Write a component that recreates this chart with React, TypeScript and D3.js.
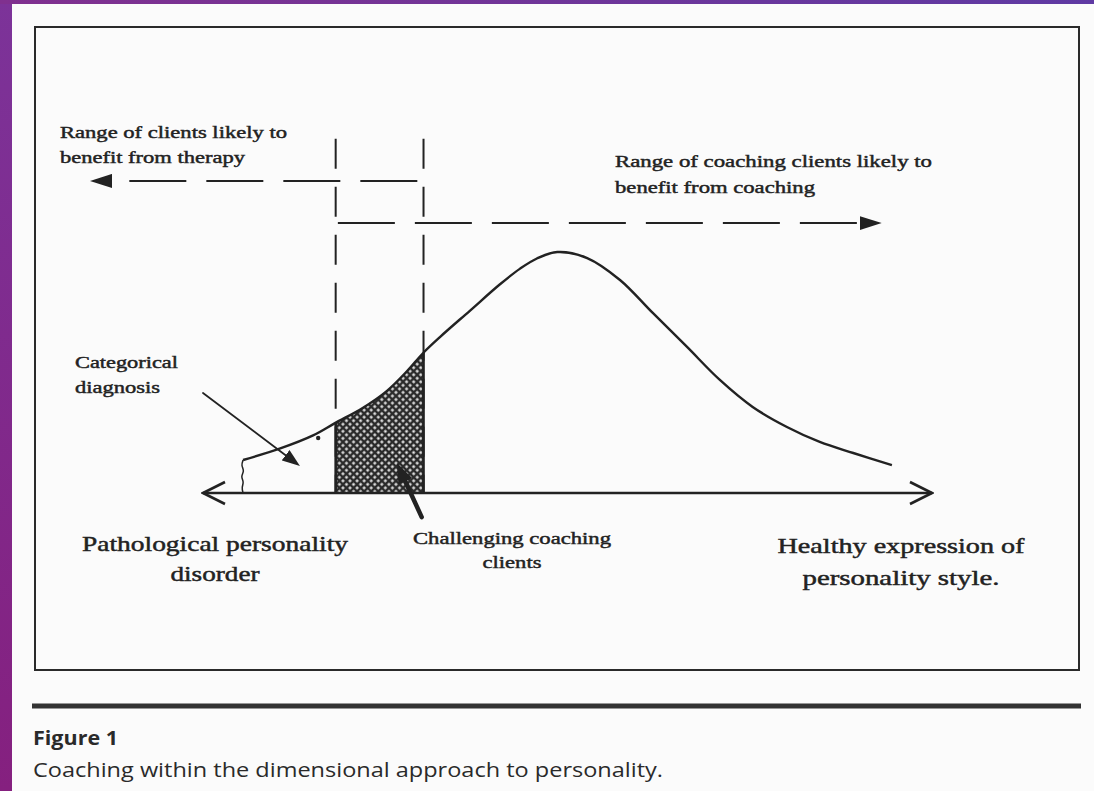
import { useEffect, useRef } from "react";
import * as d3 from "d3";

// position on the personality dimension (0 = pathological end, 100 = healthy end)
const curveX = [5.5, 10.6, 15.1, 18.1, 21.9, 25.2, 28.0, 30.2, 32.5, 36.6, 40.7, 43.5, 45.8, 48.6, 52.7, 57.2, 61.7, 66.4, 70.9, 75.4, 80.1, 84.6, 89.2, 94.5];
// relative frequency of people at that position (peak = 100)
const curveY = [13.7, 18.5, 23.9, 29.0, 35.3, 42.3, 50.6, 58.1, 64.7, 75.6, 86.5, 93.1, 97.3, 100, 97.5, 88.4, 74.7, 60.6, 46.9, 35.7, 27.4, 21.2, 16.6, 11.6];

// cut points on the dimension
const therapyLimit = 18.2;
const coachingLimit = 30.25;

// annotation anchors, in dimension / frequency units
const guideTop = 147;
const therapyRow = [29.4, -15.5, 129.5]; // from, to, level
const coachingRow = [18.5, 93.1, 112]; // from, to, level
const categoricalArrow = [[0, 41.5], [13.3, 11.2]];
const challengeArrow = [[30.0, -10.0], [26.6, 12.4]];
const stray = [15.8, 22.8];

// labels
const therapyLabel = ["Range of clients likely to", "benefit from therapy"];
const coachingLabel = ["Range of coaching clients likely to", "benefit from coaching"];
const categoricalLabel = ["Categorical", "diagnosis"];
const challengeLabel = ["Challenging coaching", "clients"];
const leftPoleLabel = ["Pathological personality", "disorder"];
const rightPoleLabel = ["Healthy expression of", "personality style."];
const figureTitle = "Figure 1";
const figureCaption = "Coaching within the dimensional approach to personality.";

export default function App() {
  const svgRef = useRef<SVGSVGElement | null>(null);

  useEffect(() => {
    if (!svgRef.current) return;
    const svg = d3.select(svgRef.current);
    svg.selectAll("*").remove();

    const W = 1094;
    const H = 791;
    const ink = "#222";

    const x = d3.scaleLinear().domain([0, 100]).range([203, 932]);
    const y = d3.scaleLinear().domain([0, 100]).range([493, 252]);

    const defs = svg.append("defs");

    const side = defs.append("linearGradient").attr("id", "side").attr("x1", 0).attr("y1", 0).attr("x2", 0).attr("y2", 1);
    side.append("stop").attr("offset", "0%").attr("stop-color", "#7c3399");
    side.append("stop").attr("offset", "100%").attr("stop-color", "#85207f");
    const topBand = defs.append("linearGradient").attr("id", "topBand").attr("x1", 0).attr("y1", 0).attr("x2", 1).attr("y2", 0);
    topBand.append("stop").attr("offset", "0%").attr("stop-color", "#80308f");
    topBand.append("stop").attr("offset", "100%").attr("stop-color", "#5f3aa3");

    const hatch = defs
      .append("pattern")
      .attr("id", "hatch")
      .attr("patternUnits", "userSpaceOnUse")
      .attr("width", 5)
      .attr("height", 5)
      .attr("patternTransform", "rotate(45)");
    hatch.append("rect").attr("width", 5).attr("height", 5).attr("fill", "#2a2a2a");
    hatch.append("rect").attr("x", 1.3).attr("y", 1.3).attr("width", 2.4).attr("height", 2.4).attr("fill", "#f4f4f4");

    // arrow heads
    const head = (id: string, w: number, h: number) => {
      defs
        .append("marker")
        .attr("id", id)
        .attr("viewBox", `0 0 ${w} ${h}`)
        .attr("refX", 0)
        .attr("refY", h / 2)
        .attr("markerWidth", w)
        .attr("markerHeight", h)
        .attr("markerUnits", "userSpaceOnUse")
        .attr("orient", "auto")
        .append("path")
        .attr("d", `M0,0L${w},${h / 2}L0,${h}Z`)
        .attr("fill", ink);
    };
    head("dashHead", 22, 14);
    head("thinHead", 18, 13);
    head("thickHead", 20, 15);

    defs
      .append("marker")
      .attr("id", "chevron")
      .attr("viewBox", "-2 -2 26 26")
      .attr("refX", 22)
      .attr("refY", 11)
      .attr("markerWidth", 26)
      .attr("markerHeight", 26)
      .attr("markerUnits", "userSpaceOnUse")
      .attr("orient", "auto-start-reverse")
      .append("path")
      .attr("d", "M0,0L22,11L0,22")
      .attr("fill", "none")
      .attr("stroke", ink)
      .attr("stroke-width", 2.6);

    const shorten = (p0: number[], p1: number[], d: number) => {
      const dx = p1[0] - p0[0];
      const dy = p1[1] - p0[1];
      const L = Math.hypot(dx, dy);
      return [p1[0] - (dx / L) * d, p1[1] - (dy / L) * d];
    };

    // page
    svg.append("rect").attr("width", W).attr("height", H).attr("fill", "#fbfbfb");
    svg.append("rect").attr("width", 12).attr("height", H).attr("fill", "url(#side)");
    svg.append("rect").attr("width", W).attr("height", 4).attr("fill", "url(#topBand)");

    // frame
    svg
      .append("rect")
      .attr("x", 35)
      .attr("y", 27)
      .attr("width", 1044)
      .attr("height", 643)
      .attr("fill", "none")
      .attr("stroke", "#2a2a2a")
      .attr("stroke-width", 2);

    const points = curveX.map((v, i) => [v, curveY[i]] as [number, number]);
    const smooth = d3.curveCatmullRom.alpha(0.5);
    const area = d3
      .area<[number, number]>()
      .x((d) => x(d[0]))
      .y0(y(0))
      .y1((d) => y(d[1]))
      .curve(smooth);
    const line = d3
      .line<[number, number]>()
      .x((d) => x(d[0]))
      .y((d) => y(d[1]))
      .curve(smooth);

    defs.append("clipPath").attr("id", "under").append("path").attr("d", area(points)!);

    // shaded band of challenging clients
    const band = svg.append("g").attr("clip-path", "url(#under)");
    band
      .append("rect")
      .attr("x", x(therapyLimit))
      .attr("y", y(110))
      .attr("width", x(coachingLimit) - x(therapyLimit))
      .attr("height", y(0) - y(110))
      .attr("fill", "url(#hatch)");
    [therapyLimit, coachingLimit].forEach((v) =>
      band
        .append("line")
        .attr("x1", x(v))
        .attr("x2", x(v))
        .attr("y1", y(110))
        .attr("y2", y(0))
        .attr("stroke", ink)
        .attr("stroke-width", 2.6)
    );

    // dashed guides
    [therapyLimit, coachingLimit].forEach((v) =>
      svg
        .append("line")
        .attr("x1", x(v))
        .attr("x2", x(v))
        .attr("y1", y(guideTop))
        .attr("y2", y(0))
        .attr("stroke", ink)
        .attr("stroke-width", 2)
        .attr("stroke-dasharray", "30 18")
    );

    [therapyRow, coachingRow].forEach(([from, to, lvl]) => {
      const p0 = [x(from), y(lvl)];
      const p1 = shorten(p0, [x(to), y(lvl)], 22);
      svg
        .append("line")
        .attr("x1", p0[0])
        .attr("y1", p0[1])
        .attr("x2", p1[0])
        .attr("y2", p1[1])
        .attr("stroke", ink)
        .attr("stroke-width", 2)
        .attr("stroke-dasharray", "57 20")
        .attr("marker-end", "url(#dashHead)");
    });

    // the curve
    svg
      .append("path")
      .attr("d", line(points)!)
      .attr("fill", "none")
      .attr("stroke", ink)
      .attr("stroke-width", 2.4);

    // cut-off squiggle at the tail
    const wiggle = [0, -2, 1.5, -2.5, 1, -1.5, 0];
    const sx = x(curveX[0]);
    const sTop = y(curveY[0]);
    svg
      .append("path")
      .attr(
        "d",
        d3
          .line<number>()
          .x((d) => sx + d)
          .y((_, i) => sTop + ((y(0) - sTop) * i) / (wiggle.length - 1))
          .curve(d3.curveBasis)(wiggle)!
      )
      .attr("fill", "none")
      .attr("stroke", ink)
      .attr("stroke-width", 1.5);

    // horizontal axis
    svg
      .append("line")
      .attr("x1", x(0))
      .attr("x2", x(100))
      .attr("y1", y(0))
      .attr("y2", y(0))
      .attr("stroke", ink)
      .attr("stroke-width", 2.6)
      .attr("marker-start", "url(#chevron)")
      .attr("marker-end", "url(#chevron)");

    // pointer arrows
    const pointer = (pts: number[][], width: number, headId: string, len: number) => {
      const p0 = [x(pts[0][0]), y(pts[0][1])];
      const p1 = shorten(p0, [x(pts[1][0]), y(pts[1][1])], len);
      svg
        .append("line")
        .attr("x1", p0[0])
        .attr("y1", p0[1])
        .attr("x2", p1[0])
        .attr("y2", p1[1])
        .attr("stroke", ink)
        .attr("stroke-width", width)
        .attr("stroke-linecap", "round")
        .attr("marker-end", `url(#${headId})`);
    };
    pointer(categoricalArrow, 1.8, "thinHead", 18);
    pointer(challengeArrow, 4.5, "thickHead", 20);

    svg.append("circle").attr("cx", x(stray[0])).attr("cy", y(stray[1])).attr("r", 2.2).attr("fill", ink);

    // labels
    const serif = "'Liberation Serif', 'Times New Roman', serif";
    const addText = (
      lines: string[],
      px: number,
      baselines: number[],
      size: number,
      widths: number[],
      anchor = "start"
    ) =>
      lines.forEach((t, i) =>
        svg
          .append("text")
          .attr("x", px)
          .attr("y", baselines[i])
          .attr("font-family", serif)
          .attr("font-size", size)
          .attr("text-anchor", anchor)
          .attr("textLength", widths[i])
          .attr("lengthAdjust", "spacingAndGlyphs")
          .attr("fill", ink)
          .attr("stroke", ink)
          .attr("stroke-width", 0.45)
          .text(t)
      );

    addText(therapyLabel, 60, [138, 163], 17, [227, 185]);
    addText(coachingLabel, 615, [167, 193], 17, [317, 200]);
    addText(categoricalLabel, 75, [368, 393], 17, [103, 85]);
    addText(challengeLabel, 512, [544, 568], 17, [198, 59], "middle");
    addText(leftPoleLabel, 215, [551, 581], 21, [266, 89], "middle");
    addText(rightPoleLabel, 901, [553, 585], 21, [247, 197], "middle");

    // rule and caption
    svg
      .append("line")
      .attr("x1", 32)
      .attr("x2", 1081)
      .attr("y1", 706)
      .attr("y2", 706)
      .attr("stroke", "#333")
      .attr("stroke-width", 5);

    const sans = "'Open Sans', 'Noto Sans', sans-serif";
    svg
      .append("text")
      .attr("x", 33)
      .attr("y", 745)
      .attr("font-family", sans)
      .attr("font-weight", 700)
      .attr("font-size", 20)
      .attr("textLength", 85)
      .attr("lengthAdjust", "spacingAndGlyphs")
      .attr("fill", "#2a2a2a")
      .text(figureTitle);
    svg
      .append("text")
      .attr("x", 33)
      .attr("y", 777)
      .attr("font-family", sans)
      .attr("font-size", 20)
      .attr("textLength", 630)
      .attr("lengthAdjust", "spacingAndGlyphs")
      .attr("fill", "#2a2a2a")
      .text(figureCaption);
  }, []);

  return (
    <div style={{ position: "absolute", left: 0, top: 0 }}>
      <svg ref={svgRef} width={1094} height={791} style={{ display: "block" }}></svg>
    </div>
  );
}
